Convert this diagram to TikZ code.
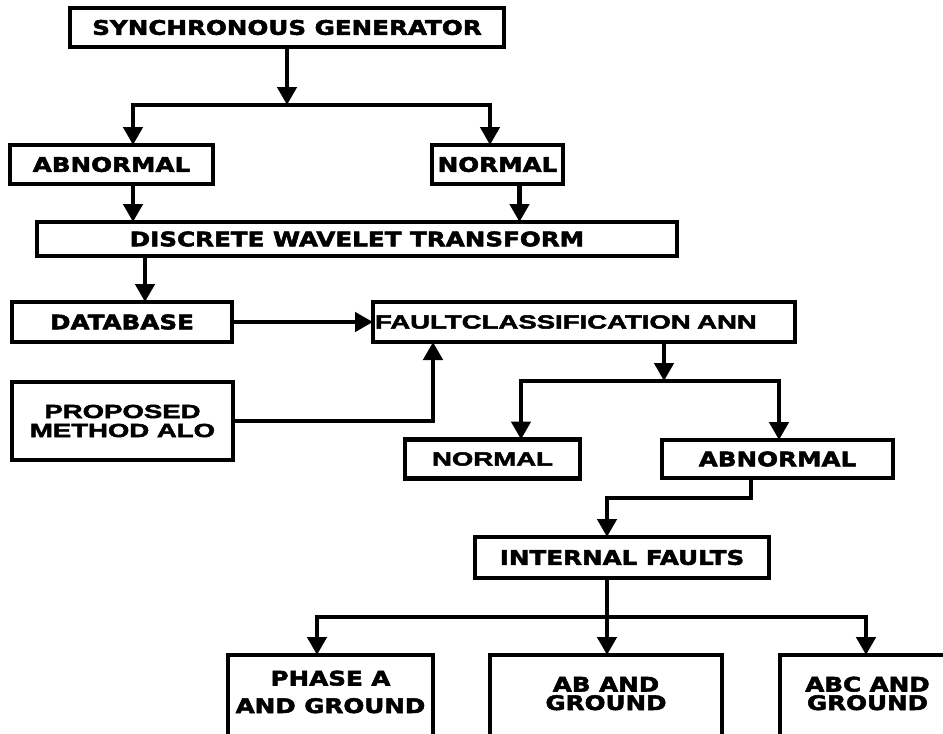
\documentclass[tikz,border=0pt]{standalone}
\usepackage{fontspec}
\newfontfamily\heavyfont[FakeStretch=1.23,FakeBold=2.6]{DejaVu Sans}
\newfontfamily\plainfont[FakeStretch=1.45,FakeBold=2.6]{Liberation Sans}
\usepackage{tikz}
\usetikzlibrary{arrows.meta}

\tikzset{
  line/.style={line width=4.5pt, line cap=rect},
  arr/.style={line, -{Triangle[length=18pt,width=19pt]}},
  box/.style={draw, line width=4.5pt, inner sep=0pt, outer sep=0pt, align=center,
    font=\heavyfont\bfseries\fontsize{20}{20}\selectfont},
  pbox/.style={box, font=\plainfont\bfseries\fontsize{19}{19}\selectfont},
  leaf/.style={box, anchor=north, text depth=30pt}
}

\begin{document}
\begin{tikzpicture}[x=1pt,y=-1pt]
\useasboundingbox (0,0) rectangle (943,734);

\node[box, minimum width=434pt, minimum height=39pt] (SG)  at (287,27.5)  {SYNCHRONOUS GENERATOR};
\node[box, minimum width=203pt, minimum height=39pt] (AB1) at (111.5,164.5) {ABNORMAL};
\node[box, minimum width=131pt, minimum height=39pt] (N1)  at (497.5,164.5) {NORMAL};
\node[box, minimum width=640pt, minimum height=34pt] (DWT) at (357,239)   {DISCRETE WAVELET TRANSFORM};
\node[box, minimum width=220pt, minimum height=40pt] (DB)  at (122,322)   {DATABASE};
\node[pbox, minimum width=422pt, minimum height=40pt, text width=418pt, align=left] (ANN) at (584,322) {FAULTCLASSIFICATION ANN};
\node[pbox, minimum width=221pt, minimum height=78pt] (ALO) at (122.5,421) {PROPOSED\\METHOD ALO};
\node[pbox, minimum width=175pt, minimum height=39pt] (N2)  at (492.5,459) {NORMAL};
\node[box, minimum width=231pt, minimum height=38pt] (AB2) at (777.5,459) {ABNORMAL};
\node[box, minimum width=294pt, minimum height=41pt] (IF)  at (622,557.5) {INTERNAL FAULTS};

% fault types, cut off at the bottom
\node[leaf, minimum width=205pt, text height=58pt, font=\heavyfont\bfseries\fontsize{20}{27.5}\selectfont] (PA) at (330.5,655) {PHASE A\\AND GROUND};
\node[leaf, minimum width=232pt, text height=55pt, font=\heavyfont\bfseries\fontsize{20}{18.5}\selectfont] (PB) at (606,655) {AB AND\\GROUND};
\node[leaf, minimum width=175pt, text height=55pt, font=\heavyfont\bfseries\fontsize{20}{18.5}\selectfont] (PC) at (867.5,655) {ABC AND\\GROUND};

\coordinate (J1)  at (287,105);
\coordinate (J1a) at (133,105);
\coordinate (J1b) at (490,105);
\coordinate (J2)  at (664,381);
\coordinate (J2a) at (521,381);
\coordinate (J2b) at (779,381);
\coordinate (K)   at (607,498);
\coordinate (J3)  at (607,617);
\coordinate (J3a) at (317,617);
\coordinate (J3b) at (866,617);

\draw[arr] (SG.south) -- (J1);
\draw[line] (J1a) -- (J1b);
\draw[arr] (J1a) -- (J1a |- AB1.north);
\draw[arr] (J1b) -- (J1b |- N1.north);
\draw[arr] (J1a |- AB1.south) -- (J1a |- DWT.north);
\draw[arr] ([xshift=22pt]N1.south) -- ([xshift=22pt]N1.south |- DWT.north);
\draw[arr] ([xshift=23pt]DB.north |- DWT.south) -- ([xshift=23pt]DB.north);
\draw[arr] (DB) -- (ANN);
\draw[arr] (ALO) -| ([xshift=-151pt]ANN.south);

\draw[arr] (J2 |- ANN.south) -- (J2);
\draw[line] (J2a) -- (J2b);
\draw[arr] (J2a) -- (J2a |- N2.north);
\draw[arr] (J2b) -- (J2b |- AB2.north);
\draw[arr] ([xshift=-26.5pt]AB2.south) |- (K) -- (K |- IF.north);

\draw[line] (J3 |- IF.south) -- (J3);
\draw[line] (J3a) -- (J3b);
\draw[arr] (J3a) -- (J3a |- PA.north);
\draw[arr] (J3) -- (J3 |- PB.north);
\draw[arr] (J3b) -- (J3b |- PC.north);

\end{tikzpicture}
\end{document}
